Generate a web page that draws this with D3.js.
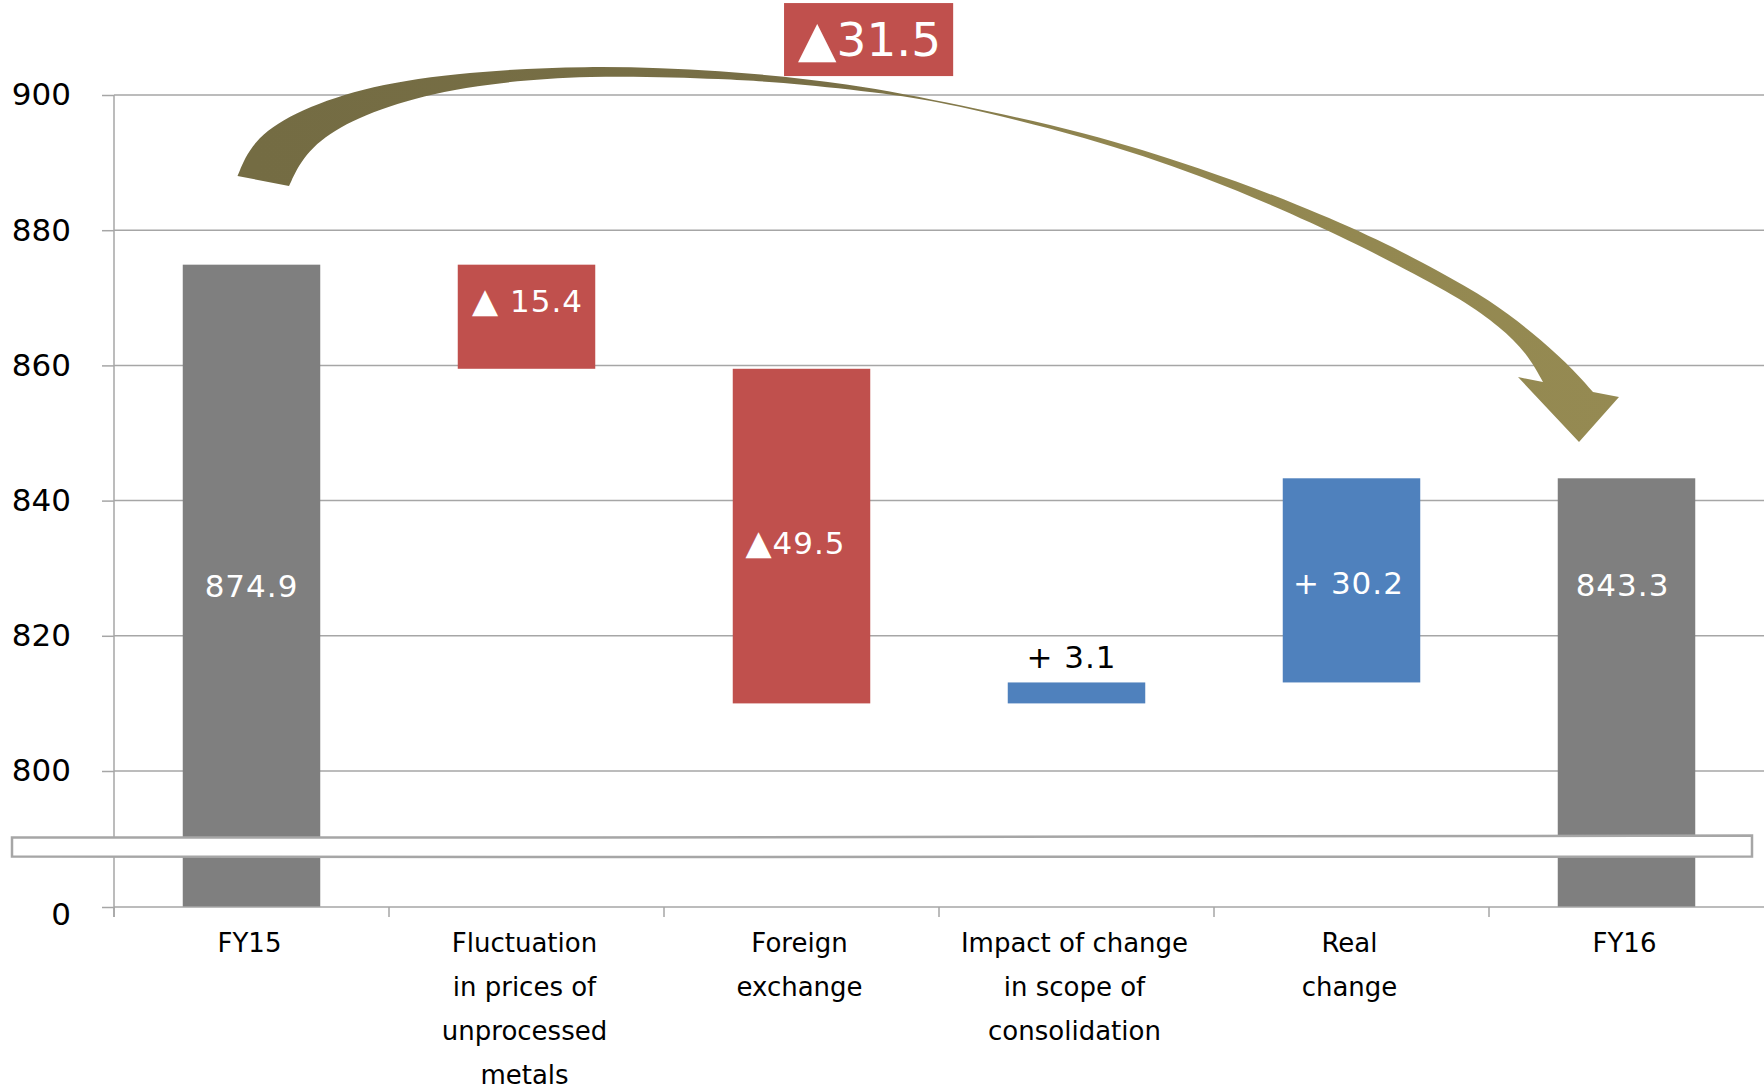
<!DOCTYPE html>
<html><head><meta charset="utf-8">
<script src="https://cdn.jsdelivr.net/npm/d3@7"></script>
<style>
html,body{margin:0;padding:0;background:#fff;}
svg{display:block;font-family:"DejaVu Sans",Verdana,sans-serif;}
</style></head><body>
<svg id="chart" width="1764" height="1089"></svg>
<script>
// ---------------- DATA ----------------
const categories = ["FY15","Fluctuation in prices of unprocessed metals","Foreign exchange","Impact of change in scope of consolidation","Real change","FY16"];
const categoryLines = [["FY15"],["Fluctuation","in prices of","unprocessed","metals"],["Foreign","exchange"],["Impact of change","in scope of","consolidation"],["Real","change"],["FY16"]];
const barKinds = ["total","delta","delta","delta","delta","total"];
const barValues = [874.9, -15.4, -49.5, 3.1, 30.2, 843.3];
const barLabels = ["874.9","▲ 15.4","▲49.5","+ 3.1","+ 30.2","843.3"];
const yTickValues = [0, 800, 820, 840, 860, 880, 900];
const totalChangeLabel = "▲31.5";

// annotation arrow outline in data space: [category position (0 = FY15 centre), value]
const arrowOuter = [[-0.0509,888.02],[0.0018,893.20],[0.1473,897.34],[0.3945,901.04],[0.7218,903.25],[1.2127,904.44],[1.7036,903.70],[2.1764,901.78],[2.5691,898.59],
  [3.0345,894.53],[3.4527,889.20],[3.8127,883.73],[4.1036,878.55],[4.3218,873.82],[4.5036,869.67],[4.6600,864.79],[4.7836,860.36],[4.8782,856.07]];
const arrowHead = [[4.9727,855.33],[4.8273,848.67],[4.6055,858.28]];
const arrowInner = [[4.6964,857.54],[4.6382,861.83],[4.5400,865.68],[4.4055,869.67],[4.1764,874.70],[3.8709,880.92],[3.4527,888.17],[3.0345,893.79],[2.5691,898.45],
  [2.3582,900.00],[1.9945,901.63],[1.7436,902.37],[1.2127,903.03],[0.8018,901.48],[0.5182,898.82],[0.3109,895.27],[0.1909,891.27],[0.1364,886.54]];
// total-change box: centre position, width (in category steps), top/bottom values
const boxSpec = {u: 2.244, w: 0.615, top: 913.6, bottom: 902.8};

// ---------------- LAYOUT ----------------
const W = 1764, H = 1089;
const left = 114, right = 1764;
const colors = {total:"#7F7F7F", neg:"#C0504D", pos:"#4F81BD"};
const gridColor = "#A6A6A6";
const labelDx = [0, 1, -6, -5, -3, -4];
const labelDy = [0, -16, 7, -36, 2, -108];
const labelFill = ["#fff","#fff","#fff","#000","#fff","#fff"];

const svg = d3.select("#chart");

const x = d3.scaleBand().domain(categories).range([left, right]).paddingInner(0.5).paddingOuter(0.25);
const y = d3.scaleLinear().domain([0, 790, 900]).range([907, 838.6, 95]);
const bw = x.bandwidth(), step = x.step();
const xPos = u => x(categories[0]) + bw/2 + u*step;

// waterfall geometry
let running = 0;
const bars = categories.map((c,i) => {
  let lo, hi, kind;
  if (barKinds[i] === "total") { lo = 0; hi = barValues[i]; running = barValues[i]; kind = "total"; }
  else { const s = running, e = running + barValues[i]; lo = Math.min(s,e); hi = Math.max(s,e); running = e; kind = barValues[i] < 0 ? "neg" : "pos"; }
  return {c, i, lo, hi, kind};
});

// gridlines
svg.append("g").selectAll("line").data(yTickValues.filter(v => v > 0)).join("line")
  .attr("x1", left).attr("x2", right)
  .attr("y1", d => y(d)).attr("y2", d => y(d))
  .attr("stroke", gridColor).attr("stroke-width", 1.5);

// bars
svg.append("g").selectAll("rect").data(bars).join("rect")
  .attr("x", d => x(d.c)).attr("width", bw)
  .attr("y", d => y(d.hi)).attr("height", d => y(d.lo) - y(d.hi))
  .attr("fill", d => colors[d.kind]);

// y axis
const yAxisG = svg.append("g").attr("transform", `translate(${left},0)`)
  .call(d3.axisLeft(y).tickValues(yTickValues).tickSize(12).tickPadding(31).tickFormat(d3.format("d")));
yAxisG.select(".domain").remove();
yAxisG.selectAll(".tick line").attr("stroke", gridColor).attr("stroke-width", 1.5);
yAxisG.selectAll(".tick text").attr("font-size", 31).attr("fill", "#000")
  .attr("font-family", '"DejaVu Sans",Verdana,sans-serif');
yAxisG.selectAll(".tick text").filter(d => d === 0).attr("transform", "translate(0,8)");

// axis lines
svg.append("line").attr("x1", left).attr("x2", left).attr("y1", y(900)).attr("y2", y(0) + 10)
  .attr("stroke", gridColor).attr("stroke-width", 1.5);
svg.append("line").attr("x1", left).attr("x2", right).attr("y1", y(0)).attr("y2", y(0))
  .attr("stroke", gridColor).attr("stroke-width", 1.5);
svg.append("g").selectAll("line").data(categories).join("line")
  .attr("x1", d => x(d) - (step - bw)/2).attr("x2", d => x(d) - (step - bw)/2)
  .attr("y1", y(0)).attr("y2", y(0) + 10)
  .attr("stroke", gridColor).attr("stroke-width", 1.5);

// axis break band
const bt = y(790) - 2;
svg.append("path")
  .attr("d", `M12,${bt+1} C600,${bt+3} 1000,${bt-3} ${W-12},${bt-1} L${W-12},${bt+20} C1000,${bt+18} 600,${bt+22} 12,${bt+20} Z`)
  .attr("fill", "#fff").attr("stroke", gridColor).attr("stroke-width", 2.5);

// category labels
const catG = svg.append("g").attr("font-size", 26).attr("fill", "#000").attr("text-anchor", "middle");
categories.forEach((c,i) => {
  const t = catG.append("text").attr("x", x(c) + bw/2).attr("y", 943).attr("dy", "0.35em");
  categoryLines[i].forEach((ln,k) => {
    t.append("tspan").attr("x", x(c) + bw/2 - 2).attr("y", 943 + k*44).attr("dy","0.35em").text(ln);
  });
});

// bar labels
const labG = svg.append("g").attr("font-size", 31).attr("text-anchor", "middle");
bars.forEach((d,i) => {
  const cx = x(d.c) + bw/2 + labelDx[i];
  const cy = (y(d.hi) + y(d.lo))/2 + labelDy[i];
  const t = labG.append("text").attr("x", cx).attr("y", cy).attr("dy", "0.36em")
    .attr("fill", labelFill[i]).attr("letter-spacing", 1);
  const s = barLabels[i];
  if (s.startsWith("▲")) {
    t.append("tspan").attr("font-size", 34).text("▲");
    t.append("tspan").text(s.slice(1));
  } else t.text(s);
});

// arrow
const defs = svg.append("defs");
const grad = defs.append("linearGradient").attr("id","arrowGrad").attr("gradientUnits","userSpaceOnUse")
  .attr("x1", xPos(0)).attr("x2", xPos(5)).attr("y1", 0).attr("y2", 0);
grad.append("stop").attr("offset", "0").attr("stop-color", "#746C43");
grad.append("stop").attr("offset", "0.42").attr("stop-color", "#786F46");
grad.append("stop").attr("offset", "0.62").attr("stop-color", "#918650");
grad.append("stop").attr("offset", "1").attr("stop-color", "#958A52");

const edge = d3.line().x(p => xPos(p[0])).y(p => y(p[1])).curve(d3.curveBasis);
const straight = d3.line().x(p => xPos(p[0])).y(p => y(p[1]));
const arrowD = edge(arrowOuter) + straight(arrowHead).replace(/^M/, "L") + edge(arrowInner).replace(/^M/, "L") + "Z";
svg.append("path").attr("d", arrowD).attr("fill", "url(#arrowGrad)");

// total change box
const bx0 = xPos(boxSpec.u - boxSpec.w/2), bx1 = xPos(boxSpec.u + boxSpec.w/2);
svg.append("rect").attr("x", bx0).attr("width", bx1 - bx0)
  .attr("y", y(boxSpec.top)).attr("height", y(boxSpec.bottom) - y(boxSpec.top))
  .attr("fill", colors.neg);
const bt2 = svg.append("text").attr("x", (bx0+bx1)/2 + 1).attr("y", (y(boxSpec.top)+y(boxSpec.bottom))/2)
  .attr("dy", "0.36em").attr("text-anchor","middle").attr("font-size", 47).attr("fill","#fff");
bt2.append("tspan").attr("font-size", 50).text(totalChangeLabel.slice(0,1));
bt2.append("tspan").text(totalChangeLabel.slice(1));
</script>
</body></html>
